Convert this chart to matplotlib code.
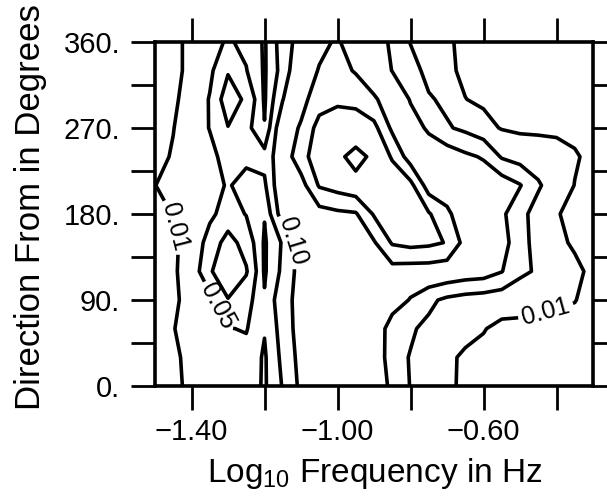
import numpy as np
import matplotlib
matplotlib.use("Agg")
import matplotlib.pyplot as plt

plt.rcParams['font.family'] = ['Liberation Sans', 'DejaVu Sans']
plt.rcParams['mathtext.default'] = 'regular'

# grid of the spectrum: log10 frequency (columns) and direction (rows)
freqs = [-1.50, -1.45, -1.40, -1.35, -1.30, -1.25, -1.20, -1.15, -1.10, -1.05, -1.00, -0.95, -0.90,
         -0.85, -0.80, -0.75, -0.70, -0.65, -0.60, -0.55, -0.50, -0.45, -0.40, -0.35, -0.30]
dirs = [0, 30, 60, 90, 120, 150, 180, 210, 240, 270, 300, 330, 360]

# energy, one row per direction
e000 = [0.005, 0.007, 0.013, 0.020, 0.025, 0.030, 0.005, 0.053, 0.112, 0.130, 0.150, 0.150, 0.140,
        0.086, 0.048, 0.030, 0.015, 0.005, 0.005, 0.005, 0.005, 0.005, 0.005, 0.005, 0.005]
e030 = [0.005, 0.008, 0.013, 0.022, 0.030, 0.035, 0.005, 0.061, 0.118, 0.140, 0.160, 0.160, 0.150,
        0.064, 0.048, 0.030, 0.016, 0.005, 0.005, 0.005, 0.005, 0.005, 0.005, 0.005, 0.005]
e060 = [0.005, 0.0095, 0.015, 0.030, 0.048, 0.053, 0.0125, 0.068, 0.125, 0.150, 0.170, 0.170, 0.160,
        0.060, 0.055, 0.040, 0.030, 0.020, 0.011, 0.005, 0.005, 0.005, 0.005, 0.005, 0.005]
e090 = [0.005, 0.008, 0.014, 0.033, 0.098, 0.0686, 0.0138, 0.081, 0.118, 0.150, 0.170, 0.180, 0.170,
        0.140, 0.095, 0.060, 0.040, 0.030, 0.025, 0.020, 0.018, 0.015, 0.012, 0.0105, 0.005]
e120 = [0.005, 0.008, 0.017, 0.095, 0.130, 0.105, 0.005, 0.060, 0.1225, 0.150, 0.170, 0.180, 0.180,
        0.160, 0.150, 0.150, 0.140, 0.130, 0.125, 0.102, 0.060, 0.044, 0.030, 0.015, 0.005]
e150 = [0.005, 0.008, 0.015, 0.070, 0.120, 0.080, 0.005, 0.055, 0.130, 0.150, 0.170, 0.190, 0.190,
        0.310, 0.330, 0.320, 0.295, 0.163, 0.140, 0.120, 0.070, 0.030, 0.015, 0.007, 0.005]
e180 = [0.005, 0.0105, 0.020, 0.040, 0.070, 0.048, 0.012, 0.130, 0.140, 0.160, 0.180, 0.190, 0.310,
        0.340, 0.340, 0.310, 0.220, 0.137, 0.120, 0.110, 0.065, 0.030, 0.011, 0.006, 0.005]
e210 = [0.0095, 0.020, 0.025, 0.030, 0.055, 0.030, 0.042, 0.150, 0.160, 0.310, 0.340, 0.370, 0.370,
        0.360, 0.330, 0.150, 0.145, 0.140, 0.135, 0.130, 0.103, 0.056, 0.022, 0.0095, 0.005]
e240 = [0.005, 0.0115, 0.025, 0.035, 0.070, 0.063, 0.065, 0.140, 0.260, 0.360, 0.380, 0.430, 0.380,
        0.290, 0.150, 0.140, 0.130, 0.110, 0.095, 0.045, 0.030, 0.025, 0.020, 0.012, 0.005]
e270 = [0.005, 0.0095, 0.020, 0.052, 0.098, 0.0648, 0.0119, 0.148, 0.210, 0.340, 0.360, 0.340, 0.330,
        0.180, 0.130, 0.090, 0.055, 0.040, 0.020, 0.008, 0.005, 0.005, 0.005, 0.005, 0.005]
e300 = [0.005, 0.008, 0.015, 0.053, 0.130, 0.0895, 0.005, 0.098, 0.170, 0.250, 0.280, 0.280, 0.210,
        0.160, 0.095, 0.055, 0.040, 0.0105, 0.005, 0.005, 0.005, 0.005, 0.005, 0.005, 0.005]
e330 = [0.005, 0.007, 0.013, 0.040, 0.095, 0.052, 0.005, 0.0675, 0.153, 0.205, 0.240, 0.190, 0.150,
        0.098, 0.070, 0.035, 0.015, 0.005, 0.005, 0.005, 0.005, 0.005, 0.005, 0.005, 0.005]
e360 = [0.005, 0.007, 0.013, 0.035, 0.055, 0.040, 0.005, 0.073, 0.123, 0.180, 0.210, 0.150, 0.130,
        0.090, 0.048, 0.030, 0.013, 0.005, 0.005, 0.005, 0.005, 0.005, 0.005, 0.005, 0.005]

levels = [0.01, 0.05, 0.10, 0.20, 0.30, 0.40]
label_levels = [0.01, 0.05, 0.10]
label_spots = [(-1.441, 167), (-0.433, 82), (-1.323, 84), (-1.129, 150)]

xticks = [-1.4, -1.2, -1.0, -0.8, -0.6, -0.4]
xticklabels = ['\u22121.40', '', '\u22121.00', '', '\u22120.60', '']
yticks = [0, 45, 90, 135, 180, 225, 270, 315, 360]
yticklabels = ['0.', '', '90.', '', '180.', '', '270.', '', '360.']

energy = np.array([e000, e030, e060, e090, e120, e150, e180, e210, e240,
                   e270, e300, e330, e360])

fig = plt.figure(figsize=(6.07, 4.98), dpi=100)
ax = fig.add_axes([155 / 607, 1 - 386 / 498, 438 / 607, 344 / 498])

cs = ax.contour(freqs, dirs, energy, levels=levels, colors='black', linewidths=2.6)
ax.clabel(cs, levels=label_levels, manual=label_spots, inline=True,
          fmt='%.2f', fontsize=18, inline_spacing=4)

ax.set_xlim(-1.5, -0.3)
ax.set_ylim(0, 360)
ax.set_xticks(xticks)
ax.set_xticklabels(xticklabels)
ax.set_yticks(yticks)
ax.set_yticklabels(yticklabels)

for sp in ax.spines.values():
    sp.set_linewidth(2.6)
ax.tick_params(direction='out', length=17, width=2.0, top=True, right=True,
               labelsize=21)
ax.tick_params(axis='x', pad=6)
ax.tick_params(axis='y', pad=8)

fig.text(0.050, 0.584, 'Direction From in Degrees', rotation=90,
         ha='center', va='center', fontsize=25)
fig.text(0.618, 0.032, 'Log$_{10}$ Frequency in Hz', ha='center', va='baseline',
         fontsize=24)

fig.savefig('out.png', dpi=100)
